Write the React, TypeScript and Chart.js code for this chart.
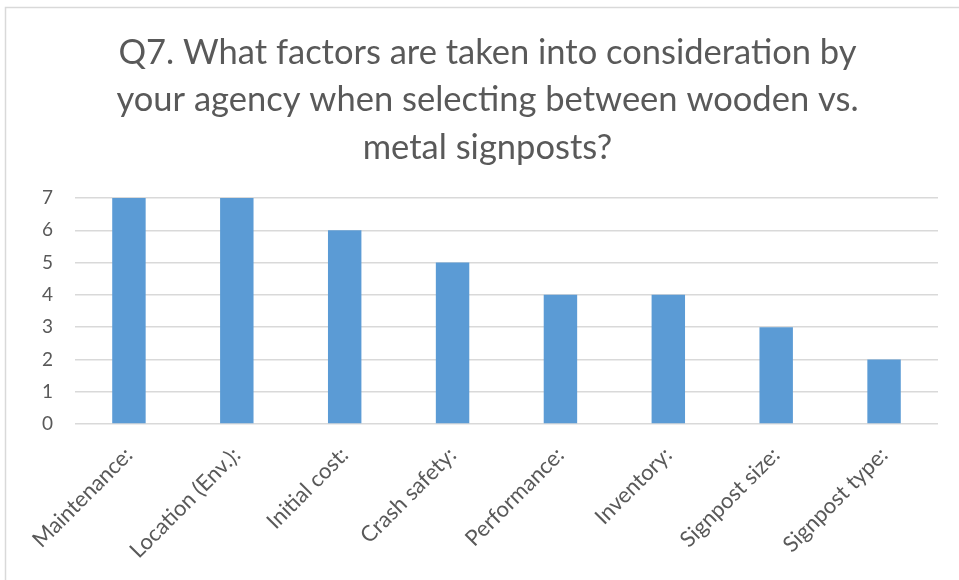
import React, { useEffect, useRef } from "react";
import { Chart, registerables } from "chart.js";

Chart.register(...registerables);

const titleLines = [
  "Q7. What factors are taken into consideration by",
  "your agency when selecting between wooden vs.",
  "metal signposts?",
];
const categories = [
  "Maintenance:",
  "Location (Env.):",
  "Initial cost:",
  "Crash safety:",
  "Performance:",
  "Inventory:",
  "Signpost size:",
  "Signpost type:",
];
const counts = [7, 7, 6, 5, 4, 4, 3, 2];
const yTicks = [0, 1, 2, 3, 4, 5, 6, 7];

const FONT = "Lato, 'Open Sans', sans-serif";
const TEXT = "#595959";

const framePlugin = {
  id: "frame",
  beforeDraw(chart: any) {
    const ctx = chart.ctx;
    ctx.save();
    ctx.fillStyle = "#ffffff";
    ctx.fillRect(0, 0, chart.width, chart.height);
    ctx.strokeStyle = "#d9d9d9";
    ctx.lineWidth = 1.5;
    ctx.strokeRect(5.5, 7.5, 2000, 2000);
    ctx.restore();
  },
};

export default function App() {
  const ref = useRef<HTMLCanvasElement>(null);
  useEffect(() => {
    const chart = new Chart(ref.current!, {
      type: "bar",
      data: {
        labels: categories,
        datasets: [
          {
            data: counts,
            backgroundColor: "#5B9BD5",
            barPercentage: 0.31,
            categoryPercentage: 1,
          },
        ],
      },
      plugins: [framePlugin],
      options: {
        animation: false,
        responsive: false,
        maintainAspectRatio: false,
        layout: { padding: { left: 37, right: 21, top: 0, bottom: 0 } },
        plugins: {
          legend: { display: false },
          tooltip: { enabled: false },
          title: {
            display: true,
            text: titleLines,
            color: TEXT,
            font: { family: FONT, size: 34.5, weight: "normal", lineHeight: "47.5px" },
            padding: { top: 29, bottom: 26.5 },
          },
        },
        scales: {
          x: {
            grid: { display: false },
            border: { display: false },
            ticks: {
              color: TEXT,
              font: { family: FONT, size: 22 },
              maxRotation: 45,
              minRotation: 45,
              autoSkip: false,
              padding: 10,
            },
            afterFit: (s: any) => {
              s.height = 156;
            },
          },
          y: {
            min: 0,
            max: 7,
            afterBuildTicks: (s: any) => {
              s.ticks = yTicks.map((v) => ({ value: v }));
            },
            grid: { color: "#d9d9d9", lineWidth: 1.5, drawTicks: false },
            border: { display: false },
            ticks: {
              color: TEXT,
              font: { family: FONT, size: 19 },
              padding: 22,
            },
            afterFit: (s: any) => {
              s.width = 38;
            },
          },
        },
      },
    });
    return () => chart.destroy();
  }, []);
  return (
    <div style={{ position: "fixed", left: 0, top: 0, width: 959, height: 580 }}>
      <canvas ref={ref} width={959} height={580} style={{ width: 959, height: 580 }} />
    </div>
  );
}
